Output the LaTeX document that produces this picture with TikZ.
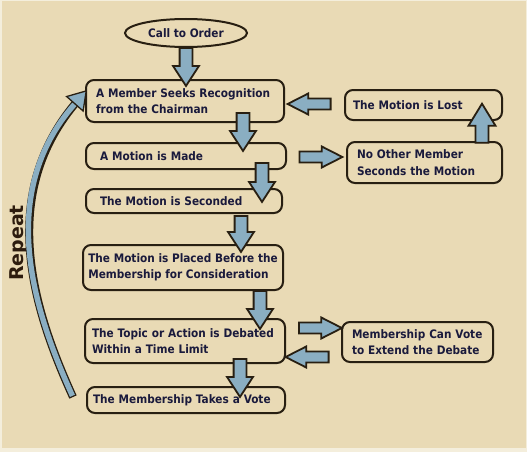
\documentclass[tikz,border=0pt]{standalone}
\usepackage{fontspec}
\newfontfamily\flowfont{DejaVu Sans Condensed}
\newfontfamily\loopfont{DejaVu Sans}
\usepackage{tikz}
\usetikzlibrary{shapes.geometric, shapes.arrows, arrows.meta}
\definecolor{paper}{RGB}{233,218,181}
\definecolor{paperedge}{RGB}{244,238,220}
\definecolor{boxline}{RGB}{40,31,18}
\definecolor{boxtext}{RGB}{26,26,60}
\definecolor{arrowblue}{RGB}{138,174,194}
\definecolor{looptext}{RGB}{45,28,14}

\begin{document}
\begin{tikzpicture}[x=1pt, y=-1pt,
      box/.style={draw=boxline, line width=2pt, fill=paper, rounded corners=8pt, align=left,
        inner xsep=8pt, inner ysep=2pt, text=boxtext, font=\flowfont\bfseries\fontsize{11.7}{16.5}\selectfont},
      down/.style={single arrow, draw=boxline, fill=arrowblue, line width=1.8pt, inner xsep=0pt,
        inner ysep=5.5pt, minimum width=0pt, minimum height=38pt, single arrow head extend=6.5pt,
        single arrow tip angle=66, rotate=-90},
      side/.style={single arrow, draw=boxline, fill=arrowblue, line width=1.8pt, inner xsep=0pt,
        inner ysep=4.6pt, minimum width=0pt, minimum height=43pt, single arrow head extend=5pt,
        single arrow tip angle=54}]
    \useasboundingbox (0,0) rectangle (527,452);
    \fill[paperedge] (0,0) rectangle (527,452);
    \fill[paper] (1.5,1.5) rectangle (525.5,448);

    \node (call) [box, ellipse, minimum width=122pt, minimum height=28pt, inner sep=0pt] at (186,33) {Call to Order};
    \node (seek) [box, text width=178pt, minimum height=42pt, inner xsep=10pt] at (185,101) {A Member Seeks Recognition\\from the Chairman};
    \node (made) [box, text width=184pt, minimum height=26pt] at (186,156) {\hspace*{6pt}A Motion is Made};
    \node (seconded) [box, text width=180pt, minimum height=24pt] at (184,201) {\hspace*{6pt}The Motion is Seconded};
    \node (placed) [box, minimum width=200pt, minimum height=45pt, inner xsep=3pt] at (183,267.5) {The Motion is Placed Before the\\Membership for Consideration};
    \node (debate) [box, text width=186pt, minimum height=44pt, inner xsep=7pt] at (185,341) {The Topic or Action is Debated\\Within a Time Limit};
    \node (vote) [box, text width=186pt, minimum height=26pt, inner xsep=6pt] at (186,400) {The Membership Takes a Vote};
    \node (lost) [box, text width=141pt, minimum height=30pt] at (423.5,105) {The Motion is Lost};
    \node (noother) [box, text width=135pt, minimum height=41pt, inner xsep=10pt] at (424.5,162.5) {No Other Member\\Seconds the Motion};
    \node (extend) [box, text width=131pt, minimum height=40pt, inner xsep=10pt] at (417.5,342) {Membership Can Vote\\to Extend the Debate};

    \node (callDown) [down] at (186,62) {};
    \node (seekDown) [down] at (243,127) {};
    \node (madeDown) [down, minimum height=39pt] at (262,177.5) {};
    \node (secondedDown) [down, minimum height=36pt] at (241,229) {};
    \node (placedDown) [down] at (260,305) {};
    \node (debateDown) [down] at (240,373) {};
    \node (lostBack) [side, rotate=180] at (314.5,104) {};
    \node (madeOut) [side] at (315.5,157) {};
    \node (nootherUp) [side, rotate=90, inner ysep=5.6pt, minimum height=39pt,
      single arrow head extend=7pt, single arrow tip angle=63] at (482,128.5) {};
    \node (debateOut) [side] at (315,328) {};
    \node (extendBack) [side, rotate=180] at (312.5,357) {};

    \node (repeat) [rotate=90, text=looptext, font=\loopfont\bfseries\fontsize{19}{19}\selectfont] at (18.5,243) {Repeat};
    \coordinate (loopStart) at (73,397);
    \coordinate (loopEnd) at (87,90);
    \draw[boxline, line width=8pt, shorten >=12pt] (loopStart) .. controls (33.6,310.5) and (-4.4,193.9) .. (loopEnd);
    \draw[arrowblue, line width=5.4pt, shorten <=1.3pt,
      -{Triangle[length=19pt, width=24pt, line width=1.3pt, color=boxline, fill=arrowblue]}]
      (loopStart) .. controls (33.6,310.5) and (-4.4,193.9) .. (loopEnd);
  \end{tikzpicture}
\end{document}
